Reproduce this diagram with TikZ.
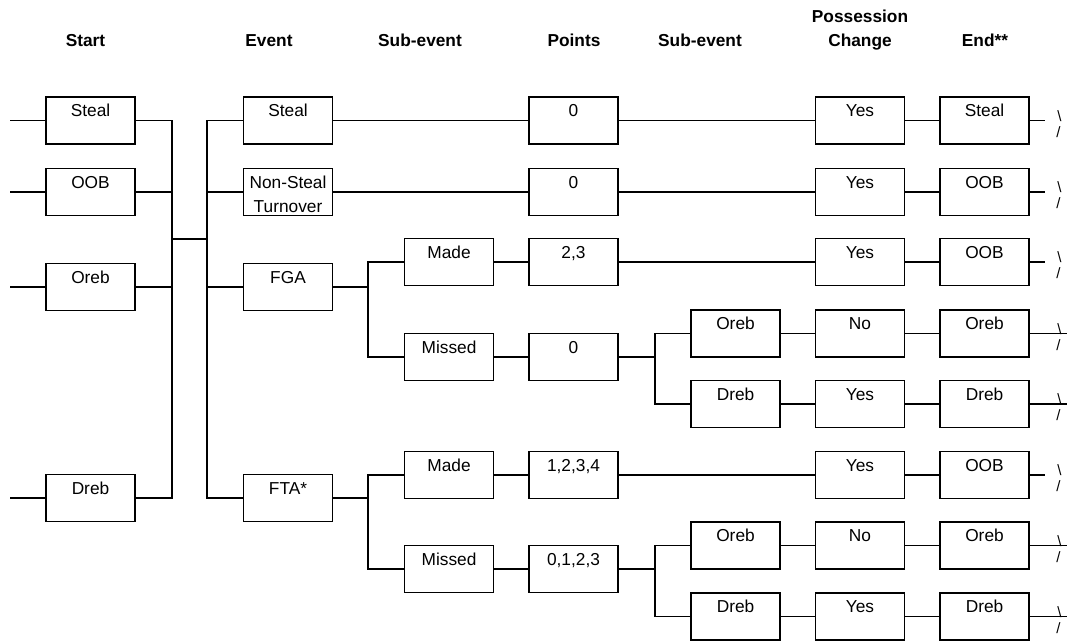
\documentclass[tikz,border=0pt]{standalone}
\usepackage{fontspec}
\setmainfont{Liberation Sans}
\begin{document}
\begin{tikzpicture}[x=1pt,y=-1pt,
  bx/.style={draw, line width=1.8pt, minimum width=89pt, minimum height=47pt, inner sep=0pt,
    text height=19.5pt, text depth=27.5pt, align=center, font=\fontsize{17.3}{24}\selectfont},
  bxtwo/.style={bx, text height=43.5pt, text depth=3.5pt},
  hd/.style={anchor=base, font=\bfseries\fontsize{17.3}{24}\selectfont, inner sep=0pt},
  ln/.style={line width=1.8pt},
  brk/.style={anchor=base, inner sep=0pt, font=\fontsize{15}{18}\selectfont}]
\useasboundingbox (0,0) rectangle (1067,641);
% headers
\node[hd] (h1) at (85.5,46) {Start};
\node[hd] (h2) at (269,46) {Event};
\node[hd] (h3) at (420,46) {Sub-event};
\node[hd] (h4) at (574,46) {Points};
\node[hd] (h5) at (700,46) {Sub-event};
\node[hd] (h6a) at (860,22) {Possession};
\node[hd] (h6b) at (860,46) {Change};
\node[hd] (h7) at (985,46) {End**};
% start column
\node[bx] (s1) at (90.5,120.5) {Steal};
\node[bx] (s2) at (90.5,192) {OOB};
\node[bx] (s3) at (90.5,287) {Oreb};
\node[bx] (s4) at (90.5,498) {Dreb};
% event column
\node[bx] (e1) at (288,120.5) {Steal};
\node[bxtwo] (e2) at (288,192) {Non-Steal\\Turnover};
\node[bx] (e3) at (288,287) {FGA};
\node[bx] (e4) at (288,498) {FTA*};
% sub-event column
\node[bx] (m1) at (449,262) {Made};
\node[bx] (x1) at (449,357) {Missed};
\node[bx] (m2) at (449,475) {Made};
\node[bx] (x2) at (449,569) {Missed};
% points column
\node[bx] (p1) at (573.5,120.5) {0};
\node[bx] (p2) at (573.5,192) {0};
\node[bx] (p3) at (573.5,262) {2,3};
\node[bx] (p4) at (573.5,357) {0};
\node[bx] (p5) at (573.5,475) {1,2,3,4};
\node[bx] (p6) at (573.5,569) {0,1,2,3};
% second sub-event column
\node[bx] (o1) at (735.5,333.5) {Oreb};
\node[bx] (d1) at (735.5,404) {Dreb};
\node[bx] (o2) at (735.5,545.5) {Oreb};
\node[bx] (d2) at (735.5,616.5) {Dreb};
% possession change column
\node[bx] (c1) at (860,120.5) {Yes};
\node[bx] (c2) at (860,192) {Yes};
\node[bx] (c3) at (860,262) {Yes};
\node[bx] (c4) at (860,333.5) {No};
\node[bx] (c5) at (860,404) {Yes};
\node[bx] (c6) at (860,475) {Yes};
\node[bx] (c7) at (860,545.5) {No};
\node[bx] (c8) at (860,616.5) {Yes};
% end column
\node[bx] (n1) at (984.5,120.5) {Steal};
\node[bx] (n2) at (984.5,192) {OOB};
\node[bx] (n3) at (984.5,262) {OOB};
\node[bx] (n4) at (984.5,333.5) {Oreb};
\node[bx] (n5) at (984.5,404) {Dreb};
\node[bx] (n6) at (984.5,475) {OOB};
\node[bx] (n7) at (984.5,545.5) {Oreb};
\node[bx] (n8) at (984.5,616.5) {Dreb};
% left stubs
\coordinate (l1) at (10,120.5);
\coordinate (l2) at (10,192);
\coordinate (l3) at (10,287);
\coordinate (l4) at (10,498);
\draw[ln] (l1) -- (s1.west);
\draw[ln] (l2) -- (s2.west);
\draw[ln] (l3) -- (s3.west);
\draw[ln] (l4) -- (s4.west);
% start bus
\coordinate (ja) at (172,239);
\coordinate (jb) at (207,239);
\draw[ln] (s1.east) -| (ja);
\draw[ln] (s2.east) -| (ja);
\draw[ln] (s3.east) -| (ja);
\draw[ln] (s4.east) -| (ja);
\draw[ln] (ja) -- (jb);
\draw[ln] (jb) |- (e1.west);
\draw[ln] (jb) |- (e2.west);
\draw[ln] (jb) |- (e3.west);
\draw[ln] (jb) |- (e4.west);
% event to points
\draw[ln] (e1.east) -- (p1.west);
\draw[ln] (e2.east) -- (p2.west);
\coordinate (jf) at (368,287);
\draw[ln] (e3.east) -- (jf);
\draw[ln] (jf) |- (m1.west);
\draw[ln] (jf) |- (x1.west);
\coordinate (jt) at (368,498);
\draw[ln] (e4.east) -- (jt);
\draw[ln] (jt) |- (m2.west);
\draw[ln] (jt) |- (x2.west);
\draw[ln] (m1.east) -- (p3.west);
\draw[ln] (x1.east) -- (p4.west);
\draw[ln] (m2.east) -- (p5.west);
\draw[ln] (x2.east) -- (p6.west);
% points to possession
\draw[ln] (p1.east) -- (c1.west);
\draw[ln] (p2.east) -- (c2.west);
\draw[ln] (p3.east) -- (c3.west);
\draw[ln] (p5.east) -- (c6.west);
\coordinate (jm) at (655,357);
\draw[ln] (p4.east) -- (jm);
\draw[ln] (jm) |- (o1.west);
\draw[ln] (jm) |- (d1.west);
\coordinate (jn) at (655,569);
\draw[ln] (p6.east) -- (jn);
\draw[ln] (jn) |- (o2.west);
\draw[ln] (jn) |- (d2.west);
\draw[ln] (o1.east) -- (c4.west);
\draw[ln] (d1.east) -- (c5.west);
\draw[ln] (o2.east) -- (c7.west);
\draw[ln] (d2.east) -- (c8.west);
% possession to end
\draw[ln] (c1.east) -- (n1.west);
\draw[ln] (c2.east) -- (n2.west);
\draw[ln] (c3.east) -- (n3.west);
\draw[ln] (c4.east) -- (n4.west);
\draw[ln] (c5.east) -- (n5.west);
\draw[ln] (c6.east) -- (n6.west);
\draw[ln] (c7.east) -- (n7.west);
\draw[ln] (c8.east) -- (n8.west);
% right stubs with break marks
\foreach \i/\y/\xe in {1/120.5/1045,2/192/1045,3/262/1045,4/333.5/1067,5/404/1067,6/475/1045,7/545.5/1067,8/616.5/1067}{
  \coordinate (r\i) at (\xe,\y);
  \draw[ln] (n\i.east) -- (r\i);
  \node[brk] (bs\i) at (1059.5,\y+0.5) {\textbackslash};
  \node[brk] (fs\i) at (1058.5,\y+16.5) {/};
}
\end{tikzpicture}
\end{document}
